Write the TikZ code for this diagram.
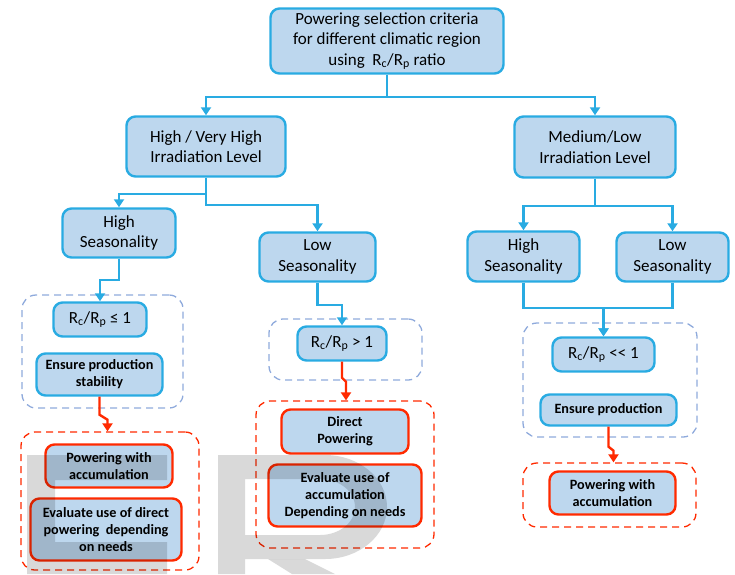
\documentclass[tikz,border=0pt]{standalone}
\usepackage{fontspec}
\setmainfont{Carlito}
\usepackage{xcolor}
\usetikzlibrary{arrows.meta,positioning,calc}
\definecolor{boxfill}{HTML}{BDD7EE}
\definecolor{boxline}{HTML}{29ABE2}
\definecolor{hotred}{HTML}{FF2A00}
\definecolor{grpblue}{HTML}{8FAADC}
\newcommand{\RcRp}{R\textsubscript{c}/R\textsubscript{p}}

\begin{document}
\begin{tikzpicture}[x=1pt,y=-1pt,
  crit/.style={rectangle,draw=boxline,fill=boxfill,line width=2.4pt,rounded corners=9pt,align=center,inner sep=2pt,font=\fontsize{17}{20.5}\selectfont},
  act/.style={crit,font=\fontsize{14.2}{16.8}\selectfont\bfseries},
  res/.style={act,draw=hotred},
  grp/.style={rectangle,draw=grpblue,line width=1.3pt,rounded corners=14pt,dash pattern=on 7pt off 5pt},
  resgrp/.style={grp,draw=hotred},
  flow/.style={draw=boxline,line width=2.4pt,-{Triangle[length=8pt,width=10pt]}},
  bolt/.style={flow,draw=hotred}
]
  \useasboundingbox (0,0) rectangle (735,574);
  % top and irradiation level
  \node[crit,minimum width=233pt,minimum height=65pt] (top) at (387,41) {Powering selection criteria\\for different climatic region\\using~~\RcRp{} ratio};
  \node[crit,minimum width=159pt,minimum height=60pt] (hvh)  at (206,146.5) {High / Very High\\Irradiation Level};
  \node[crit,minimum width=161pt,minimum height=61pt] (mlow) at (595,147) {Medium/Low\\Irradiation Level};
  % seasonality
  \node[crit,minimum width=113pt,minimum height=49pt] (hseasA) at (119,233)   {High\\Seasonality};
  \node[crit,minimum width=116pt,minimum height=49pt] (lseasA) at (317.5,257) {Low\\Seasonality};
  \node[crit,minimum width=112pt,minimum height=50pt] (hseasB) at (523.5,256.5) {High\\Seasonality};
  \node[crit,minimum width=112pt,minimum height=49pt] (lseasB) at (672.5,257) {Low\\Seasonality};
  % ratio groups
  \node[grp,minimum width=161pt,minimum height=113pt] (grpA) at (102.5,351.5) {};
  \node[grp,minimum width=153pt,minimum height=61pt]  (grpB) at (345.5,349.5) {};
  \node[grp,minimum width=174pt,minimum height=114pt] (grpC) at (610,380) {};
  \node[crit,minimum width=93pt,minimum height=34pt]  (rle)  at (100,319.5) {\RcRp{} ≤ 1};
  \node[act,minimum width=126pt,minimum height=42pt]  (stab) at (99.5,374.5) {Ensure production\\stability};
  \node[crit,minimum width=89pt,minimum height=34pt]  (rgt)  at (342,343.5) {\RcRp{} > 1};
  \node[crit,minimum width=102pt,minimum height=34pt] (rll)  at (603.5,354.5) {\RcRp{} <{}< 1};
  \node[act,minimum width=136pt,minimum height=31pt]  (ens)  at (608.5,410) {Ensure production};
  % powering groups
  \node[resgrp,minimum width=178pt,minimum height=138pt] (powA) at (110,501) {};
  \node[resgrp,minimum width=178pt,minimum height=147pt] (powB) at (345,474.5) {};
  \node[resgrp,minimum width=173pt,minimum height=64pt]  (powC) at (609.5,495) {};
  \node[res,minimum width=127pt,minimum height=43pt] (accA)   at (109,466)    {Powering with\\accumulation};
  \node[res,minimum width=151pt,minimum height=62pt] (evdir)  at (106,529.5)  {Evaluate use of direct\\powering~~depending\\on needs};
  \node[res,minimum width=127pt,minimum height=44pt] (direct) at (345,431.5)  {Direct\\Powering};
  \node[res,minimum width=153pt,minimum height=62pt] (evacc)  at (345,495.5)  {Evaluate use of\\accumulation\\Depending on needs};
  \node[res,minimum width=126pt,minimum height=43pt] (accB)   at (612.5,493)  {Powering with\\accumulation};

  \draw[flow] (top.south) -- ++(0,22) -| (hvh.north);
  \draw[flow] (top.south) -- ++(0,22) -| (mlow.north);
  \draw[flow] (hvh.south) -- ++(0,16) -| (hseasA.north);
  \draw[flow] (hvh.south) -- ++(0,27) -| (lseasA.north);
  \draw[flow] (mlow.south) -- ++(0,27) -| (hseasB.north);
  \draw[flow] (mlow.south) -- ++(0,27) -| (lseasB.north);
  \draw[flow] (hseasA.south) -- ++(0,21) -| (rle.north);
  \draw[flow] (lseasA.south) -- ++(0,22) -| (rgt.north);
  \draw[flow] (hseasB.south) -- ++(0,25) -| (rll.north);
  \draw[flow] (lseasB.south) -- ++(0,25) -| (rll.north);
  \draw[bolt] (stab.south) -- ++(0,18) -- ++(8,5) coordinate (jA) -- (jA |- powA.north);
  \draw[bolt] (rgt.south)  -- ++(0,16) -- ++(4,4) coordinate (jB) -- (jB |- powB.north);
  \draw[bolt] (ens.south)  -- ++(0,20) -- ++(5,4) coordinate (jC) -- (jC |- powC.north);

  % watermark
  \fill[black,opacity=0.15] (27,455) rectangle (55,574) (55,455) rectangle (167,480) (55,542) rectangle (167,574);
  \fill[black,opacity=0.15,even odd rule] (218,455) -- (325,455) arc[start angle=-90,end angle=90,x radius=62,y radius=52] -- (245,559) -- (245,574) -- (218,574) -- cycle
    (245,479) -- (320,479) arc[start angle=-90,end angle=90,x radius=35,y radius=28] -- (245,535) -- cycle;
  \fill[black,opacity=0.15] (268,559) -- (305,559) -- (335,574) -- (292,574) -- cycle;
\end{tikzpicture}
\end{document}
